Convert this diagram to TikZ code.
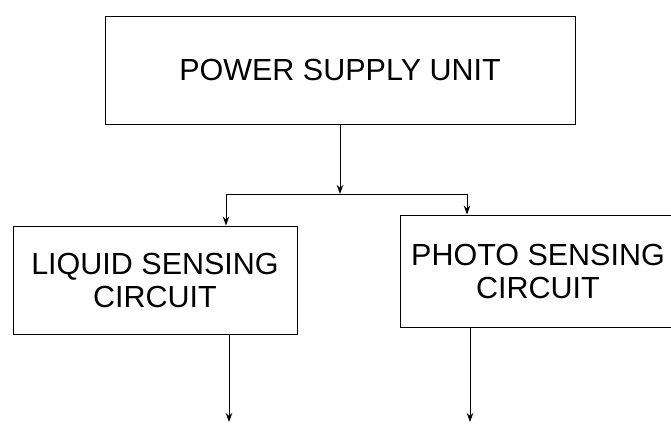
\documentclass[tikz,border=0pt]{standalone}
\usepackage{fontspec}
\setmainfont{Liberation Sans}
\usetikzlibrary{arrows.meta}
\begin{document}
\begin{tikzpicture}[x=1pt,y=1pt,
  box/.style={draw=black, line width=0.9pt, inner sep=0pt, align=center,
    font=\fontsize{30.5}{33}\selectfont},
  arr/.style={draw=black, line width=0.9pt, -{Stealth[length=9pt,width=6.5pt]}},
  conn/.style={draw=black, line width=0.9pt}]
\useasboundingbox (0,0) rectangle (671,-425);
\clip (0,0) rectangle (671,-425);
\node[box, minimum width=470, minimum height=108] (psu) at (340,-70) {POWER SUPPLY UNIT};
\node[box, minimum width=284, minimum height=108] (liq) at (155,-280) {LIQUID SENSING\\CIRCUIT};
\node[box, minimum width=276, minimum height=112] (pho) at (538,-271) {PHOTO SENSING\\CIRCUIT};
\coordinate (j) at (340,-194);
\coordinate (lj) at (226,-194);
\coordinate (rj) at (467,-194);
\coordinate (lo) at (229,-422);
\coordinate (po) at (470,-422);
\draw[arr] (psu.south) -- (j);
\draw[conn] (lj) -- (rj);
\draw[arr] (lj) -- (lj |- liq.north);
\draw[arr] (rj) -- (rj |- pho.north);
\draw[arr] (lo |- liq.south) -- (lo);
\draw[arr] (po |- pho.south) -- (po);
\end{tikzpicture}
\end{document}
